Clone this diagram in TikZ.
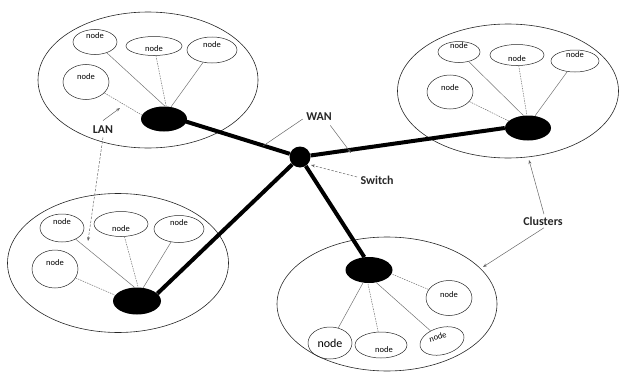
\documentclass[tikz,border=0pt]{standalone}
\usepackage{fontspec}
\setmainfont{Carlito}
\usetikzlibrary{shapes.geometric,arrows.meta}
\begin{document}
\begin{tikzpicture}[x=1pt,y=-1pt,
  cluster/.style={draw=black!85,line width=0.6pt,ellipse,inner sep=0pt},
  lannode/.style={draw=black!85,line width=0.5pt,ellipse,inner sep=0pt},
  hub/.style={fill=black,ellipse,inner sep=0pt,minimum width=46pt,minimum height=25pt},
  switchnode/.style={fill=black,circle,inner sep=0pt,minimum size=21pt},
  nodetext/.style={font=\fontsize{8.5}{9}\selectfont},
  link/.style={draw=black!55,line width=0.5pt},
  dlink/.style={draw=black!55,line width=0.5pt,dash pattern=on 1.5pt off 1pt},
  wan/.style={draw=black,line width=4pt},
  tag/.style={font=\fontsize{12}{13}\selectfont\bfseries,text=black!85},
  pointer/.style={draw=black!60,line width=0.5pt,-{Stealth[length=4pt,width=3pt]}},
  dpointer/.style={pointer,dash pattern=on 2.5pt off 1.5pt}]
\useasboundingbox (0,0) rectangle (619,372);

% cluster outlines
\node[cluster,minimum width=220pt,minimum height=136pt] (cl1) at (148,80) {};
\node[cluster,minimum width=221pt,minimum height=134pt] (cl2) at (508,91) {};
\node[cluster,minimum width=221pt,minimum height=139pt] (cl3) at (118,263) {};
\node[cluster,minimum width=220pt,minimum height=134pt] (cl4) at (387,304) {};

% cluster 1 (top left)
\node[hub] (h1) at (164,119) {};
\node[lannode,minimum width=44pt,minimum height=25pt,label={[nodetext,yshift=6pt]center:node}] (a1) at (95,42) {};
\node[lannode,minimum width=56pt,minimum height=19pt,label={[nodetext,yshift=-3pt]center:node}] (b1) at (154,46) {};
\node[lannode,minimum width=50pt,minimum height=26pt,label={[nodetext,yshift=5pt]center:node}] (c1) at (212,50) {};
\node[lannode,minimum width=46pt,minimum height=35pt,label={[nodetext,yshift=5pt]center:node}] (d1) at (86,82) {};
\draw[link] (a1) -- (h1.85);
\draw[dlink] (b1) -- (h1.80);
\draw[link] (c1) -- (h1.60);
\draw[dlink] (d1) -- (h1.170);

% cluster 2 (top right)
\node[hub] (h2) at (528,128) {};
\node[lannode,minimum width=42pt,minimum height=21pt,label={[nodetext,yshift=6pt]center:node}] (a2) at (459,52) {};
\node[lannode,minimum width=54pt,minimum height=21pt,label={[nodetext,yshift=-4pt]center:node}] (b2) at (517,55) {};
\node[lannode,minimum width=48pt,minimum height=22pt,label={[nodetext,yshift=6pt]center:node}] (c2) at (575,61) {};
\node[lannode,minimum width=46pt,minimum height=34pt,label={[nodetext,yshift=4pt]center:node}] (d2) at (450,92) {};
\draw[link] (a2) -- (h2.110);
\draw[dlink] (b2) -- (h2.95);
\draw[link] (c2) -- (h2.60);
\draw[dlink] (d2) -- (h2.160);

% cluster 3 (bottom left)
\node[hub,minimum width=48pt,minimum height=27pt] (h3) at (137,301) {};
\node[lannode,minimum width=44pt,minimum height=28pt,label={[nodetext,yshift=6pt]center:node}] (a3) at (62,228) {};
\node[lannode,minimum width=54pt,minimum height=25pt,label={[nodetext,yshift=-5pt]center:node}] (b3) at (121,224) {};
\node[lannode,minimum width=50pt,minimum height=27pt,label={[nodetext,yshift=6pt]center:node}] (c3) at (179,229) {};
\node[lannode,minimum width=46pt,minimum height=38pt,label={[nodetext,yshift=6pt]center:node}] (d3) at (55,269) {};
\draw[link] (a3) -- (h3.100);
\draw[dlink] (b3) -- (h3.85);
\draw[link] (c3) -- (h3.65);
\draw[dlink] (d3) -- (h3.165);

% cluster 4 (bottom right)
\node[hub,minimum width=47pt,minimum height=26pt] (h4) at (369,270) {};
\node[lannode,minimum width=46pt,minimum height=35pt,label={[nodetext,yshift=3pt]center:node}] (a4) at (449,298) {};
\node[lannode,minimum width=44pt,minimum height=32pt,label={[font=\fontsize{12}{13}\selectfont]center:node}] (b4) at (330,343) {};
\node[lannode,minimum width=52pt,minimum height=26pt,label={[nodetext,yshift=-5pt,xshift=3pt]center:node}] (c4) at (381,345) {};
\node[lannode,rotate=15,minimum width=45pt,minimum height=27pt,label={[nodetext,rotate=15,yshift=5pt,xshift=-3pt]center:node}] (d4) at (442,341) {};
\draw[link] (b4) -- (h4.245);
\draw[dlink] (c4) -- (h4.265);
\draw[link] (d4) -- (h4.300);
\draw[dlink] (a4) -- (h4.350);

% wide-area backbone through the switch
\node[switchnode] (sw) at (300,157) {};
\draw[wan] (h1.east) ++(-3,2) coordinate (h1e) (h1e) -- (sw);
\draw[wan] (sw) -- (h2.west);
\draw[wan] (sw) -- (h3.20);
\draw[wan] (sw) -- (h4.110);

% labels and pointers
\node[tag] (lan) at (103,130) {LAN};
\coordinate (lan1) at (120,108);
\coordinate (lan3) at (88,241);
\draw[pointer] (lan.north) ++(0,-2) coordinate (lanup) (lanup) -- (lan1);
\draw[dpointer] (lan.south) -- (lan3);

\node[tag] (wanlab) at (319,117) {WAN};
\coordinate (wanl) at (263,146);
\coordinate (wanr) at (351,153);
\draw[link,draw=black!60] (wanlab.west) ++(0,2) coordinate (wanw) (wanw) -- (wanl);
\draw[pointer] (wanlab.south east) ++(-5,1) coordinate (wane) (wane) -- (wanr);

\node[tag] (swlab) at (377,180) {Switch};
\coordinate (swp) at (311,165);
\draw[dpointer] (swlab.west) ++(0,-3) coordinate (sww) (sww) -- (swp);

\node[tag] (cllab) at (543,221) {Clusters};
\coordinate (clp2) at (529,160);
\coordinate (clp4) at (483,267);
\draw[pointer] (cllab.north) ++(1,1) coordinate (cln) (cln) -- (clp2);
\draw[pointer] (cllab.south) ++(1,-1) coordinate (cls) (cls) -- (clp4);
\end{tikzpicture}
\end{document}
